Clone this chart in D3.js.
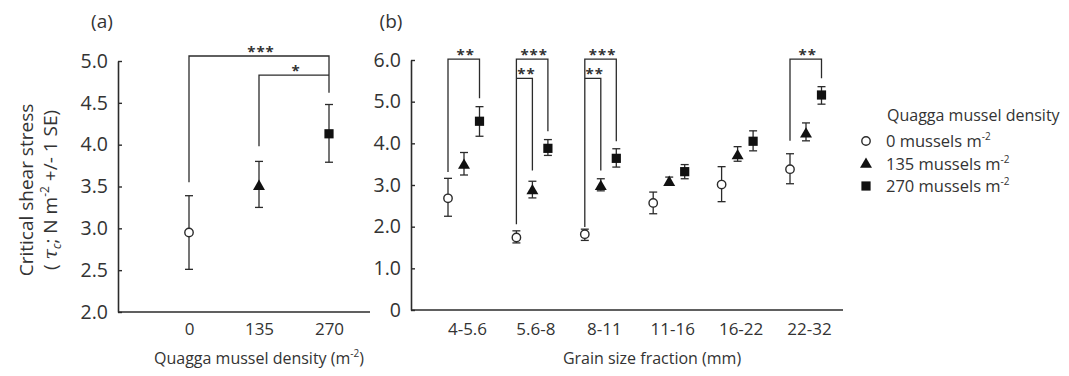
<!DOCTYPE html>
<html><head><meta charset="utf-8">
<script src="https://cdn.jsdelivr.net/npm/d3@7"></script>
<style>
body{margin:0;background:#fff;}
text{font-family:"Open Sans",sans-serif;fill:#333;}
</style></head>
<body><svg id="c" width="1069" height="376"></svg>
<script>
// ---------- data ----------
const densities = ["0","135","270"];
const densityMean = [2.95, 3.51, 4.13];
const densityLow  = [2.51, 3.25, 3.79];
const densityHigh = [3.39, 3.80, 4.48];

const grains = ["4-5.6","5.6-8","8-11","11-16","16-22","22-32"];
const mean0   = [2.68, 1.74, 1.82, 2.57, 3.01, 3.38];
const low0    = [2.25, 1.61, 1.67, 2.31, 2.60, 3.03];
const high0   = [3.16, 1.90, 1.94, 2.83, 3.44, 3.75];
const mean135 = [3.49, 2.88, 2.98, 3.08, 3.72, 4.24];
const low135  = [3.24, 2.69, 2.86, 3.01, 3.57, 4.06];
const high135 = [3.78, 3.09, 3.15, 3.19, 3.92, 4.49];
const mean270 = [4.53, 3.88, 3.64, 3.32, 4.05, 5.16];
const low270  = [4.17, 3.71, 3.43, 3.15, 3.82, 4.94];
const high270 = [4.88, 4.09, 3.87, 3.49, 4.30, 5.36];

const yTicksA = [2.0, 2.5, 3.0, 3.5, 4.0, 4.5, 5.0];
const yTicksB = [0, 1, 2, 3, 4, 5, 6];
const seriesNames = ["0 mussels m", "135 mussels m", "270 mussels m"];

// significance brackets
const sigA = [
  {from:0, to:2, top:5.06, l:3.55, r:4.62, label:"***"},
  {from:1, to:2, top:4.83, l:3.98, r:4.83, label:"*"}
];
const sigB = [
  {g:0, from:0, to:2, top:6.02, l:3.31, r:5.08, label:"**"},
  {g:1, from:0, to:2, top:6.02, l:2.06, r:4.29, label:"***"},
  {g:1, from:0, to:1, top:5.56, l:5.56, r:3.35, label:"**"},
  {g:2, from:0, to:2, top:6.02, l:1.99, r:4.05, label:"***"},
  {g:2, from:0, to:1, top:5.56, l:5.56, r:3.35, label:"**"},
  {g:5, from:0, to:2, top:6.02, l:4.06, r:5.56, label:"**"}
];

// ---------- drawing ----------
const svg = d3.select("#c");
const ink = "#2b2b2b";

function symbol(g, type, x, y){
  if(type===0){
    g.append("circle").attr("cx",x).attr("cy",y).attr("r",4.2)
      .attr("fill","#fff").attr("stroke",ink).attr("stroke-width",1.4);
  } else if(type===1){
    g.append("path").attr("d",d3.symbol(d3.symbolTriangle, 62)())
      .attr("transform",`translate(${x},${y+0.8})`).attr("fill","#111");
  } else {
    g.append("rect").attr("x",x-4.6).attr("y",y-4.6).attr("width",9.2).attr("height",9.2).attr("fill","#111");
  }
}
function errbar(g, x, ylo, yhi){
  g.append("line").attr("x1",x).attr("x2",x).attr("y1",ylo).attr("y2",yhi).attr("stroke",ink).attr("stroke-width",1.3);
  [ylo,yhi].forEach(yy=>g.append("line").attr("x1",x-4).attr("x2",x+4).attr("y1",yy).attr("y2",yy).attr("stroke",ink).attr("stroke-width",1.3));
}
function yAxis(g, scale, ticks, fmt){
  const ax = d3.axisLeft(scale).tickValues(ticks).tickFormat(fmt)
     .tickSizeInner(-4).tickSizeOuter(0).tickPadding(10);
  g.call(ax);
  g.selectAll("path.domain").attr("stroke",ink).attr("stroke-width",1.6);
  g.selectAll(".tick line").attr("stroke",ink).attr("stroke-width",1.4);
  g.selectAll(".tick text").attr("font-size",19.5).attr("font-family","Open Sans").attr("fill","#333");
}
function bracket(g, x1, x2, yTop, yL, yR, label, labelY){
  g.append("path").attr("d",`M${x1},${yL}V${yTop}H${x2}V${yR}`)
    .attr("fill","none").attr("stroke",ink).attr("stroke-width",1.3);
  g.append("text").attr("x",(x1+x2)/2+2).attr("y",labelY).attr("text-anchor","middle")
    .attr("font-size",15).attr("font-weight","bold").attr("letter-spacing",1).text(label);
}

// ===== Panel (a) =====
const ga = svg.append("g");
const yA = d3.scaleLinear().domain([2,5]).range([312,61]);
const xA = d3.scalePoint().domain(densities).range([189,329]);
const axisA = {x0:118, x1:370};
yAxis(ga.append("g").attr("transform",`translate(${axisA.x0},0)`), yA, yTicksA, d3.format(".1f"));
ga.append("line").attr("x1",axisA.x0).attr("x2",axisA.x1).attr("y1",yA(2)).attr("y2",yA(2)).attr("stroke",ink).attr("stroke-width",1.6);
const xa = ga.append("g").attr("transform",`translate(0,${yA(2)})`).call(d3.axisBottom(xA).tickSize(0).tickPadding(11));
xa.select("path.domain").remove();
xa.selectAll("text").attr("font-size",17).attr("font-family","Open Sans").attr("fill","#333");

densities.forEach((d,i)=>{
  errbar(ga, xA(d), yA(densityLow[i]), yA(densityHigh[i]));
  symbol(ga, i, xA(d), yA(densityMean[i]));
});
sigA.forEach(s=>{
  bracket(ga, xA(densities[s.from]), xA(densities[s.to]), yA(s.top), yA(s.l), yA(s.r), s.label, yA(s.top)+1);
});
ga.append("text").attr("x",102).attr("y",28).attr("text-anchor","middle").attr("font-size",19).text("(a)");
const xtA = ga.append("text").attr("x",xA("135")).attr("y",364).attr("text-anchor","middle").attr("font-size",16);
xtA.append("tspan").text("Quagga mussel density (m");
xtA.append("tspan").attr("font-size",10).attr("dy",-7).text("-2");
xtA.append("tspan").attr("dy",7).text(")");

// y title
const yt = svg.append("g").attr("transform","translate(0,190) rotate(-90)");
yt.append("text").attr("x",0).attr("y",33).attr("text-anchor","middle").attr("font-size",19).text("Critical shear stress");
const yt2 = yt.append("text").attr("x",0).attr("y",57).attr("text-anchor","middle").attr("font-size",19);
yt2.append("tspan").text("( ");
yt2.append("tspan").attr("font-style","italic").attr("font-family","DejaVu Serif").text("τ");
yt2.append("tspan").attr("font-style","italic").attr("font-size",12).attr("dy",4).text("c");
yt2.append("tspan").attr("dy",-4).text("; N m");
yt2.append("tspan").attr("font-size",12).attr("dy",-8).text("-2");
yt2.append("tspan").attr("dy",8).text(" +/- 1 SE)");

// ===== Panel (b) =====
const gb = svg.append("g");
const yB = d3.scaleLinear().domain([0,6]).range([310,60]);
const xB = d3.scalePoint().domain(grains).range([464,806]);
const offsets = [-16, 0, 15.5];
const axisB = {x0:411, x1:843};
yAxis(gb.append("g").attr("transform",`translate(${axisB.x0},0)`), yB, yTicksB, d=> d===0 ? "0" : d3.format(".1f")(d));
gb.append("line").attr("x1",axisB.x0).attr("x2",axisB.x1).attr("y1",yB(0)).attr("y2",yB(0)).attr("stroke",ink).attr("stroke-width",1.6);
const xb = gb.append("g").attr("transform",`translate(3,${yB(0)})`).call(d3.axisBottom(xB).tickSize(0).tickPadding(13));
xb.select("path.domain").remove();
xb.selectAll("text").attr("font-size",17).attr("font-family","Open Sans").attr("fill","#333");

const means = [mean0, mean135, mean270], lows = [low0, low135, low270], highs = [high0, high135, high270];
grains.forEach((g,i)=>{
  [0,1,2].forEach(s=>{
    const x = xB(g)+offsets[s];
    errbar(gb, x, yB(lows[s][i]), yB(highs[s][i]));
    symbol(gb, s, x, yB(means[s][i]));
  });
});
sigB.forEach(s=>{
  const x1 = xB(grains[s.g])+offsets[s.from], x2 = xB(grains[s.g])+offsets[s.to];
  bracket(gb, x1, x2, yB(s.top), yB(s.l), yB(s.r), s.label, yB(s.top)+1);
});
gb.append("text").attr("x",391).attr("y",28).attr("text-anchor","middle").attr("font-size",19).text("(b)");
gb.append("text").attr("x",652).attr("y",364).attr("text-anchor","middle").attr("font-size",16).text("Grain size fraction (mm)");

// ===== Legend =====
const lg = svg.append("g");
lg.append("text").attr("x",887).attr("y",121).attr("font-size",16).text("Quagga mussel density");
seriesNames.forEach((n,i)=>{
  const cy = 141 + i*22.5;
  symbol(lg, i, 866, cy);
  const t = lg.append("text").attr("x",886).attr("y",cy+6).attr("font-size",16.5);
  t.append("tspan").text(n);
  t.append("tspan").attr("font-size",10).attr("dy",-7).text("-2");
});
</script></body></html>
